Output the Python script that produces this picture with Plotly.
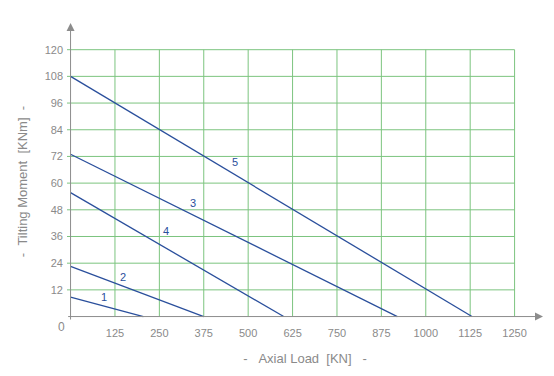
import plotly.graph_objects as go

# ---- data ----
x_ticks = [125, 250, 375, 500, 625, 750, 875, 1000, 1125, 1250]
y_ticks = [12, 24, 36, 48, 60, 72, 84, 96, 108, 120]

curve_names = ["1", "2", "3", "4", "5"]
curve_x = [[0, 205], [0, 375], [0, 920], [0, 600], [0, 1130]]
curve_y = [[8.7, 0], [22.6, 0], [73, 0], [55.7, 0], [108, 0]]
label_x = [94, 147, 345, 268, 463]
label_y = [8.6, 18, 50.9, 38.3, 69.3]

LINE = "#2a4f9c"
GRID = "#7cc47f"
AXIS = "#8c8c8c"
TXT = "#8a8a8a"
FONT = "Liberation Sans, Arial, sans-serif"

fig = go.Figure()
for n, xs, ys in zip(curve_names, curve_x, curve_y):
    fig.add_trace(go.Scatter(x=xs, y=ys, mode="lines", name=n,
                             line=dict(color=LINE, width=1.3), showlegend=False,
                             hoverinfo="skip"))

shapes = []
# vertical grid
for t in x_ticks:
    shapes.append(dict(type="line", xref="x", yref="y", x0=t, x1=t, y0=0, y1=max(y_ticks),
                       line=dict(color=GRID, width=1), layer="below"))
# horizontal grid (slightly extends left of the axis)
for t in y_ticks:
    shapes.append(dict(type="line", xref="x", yref="y", x0=-11, x1=max(x_ticks), y0=t, y1=t,
                       line=dict(color=GRID, width=1), layer="below"))

annotations = []
# axes with arrows
annotations.append(dict(x=1330, y=0, ax=-11, ay=0, xref="x", yref="y", axref="x", ayref="y",
                        text="", showarrow=True, arrowhead=2, arrowsize=1.6, arrowwidth=1,
                        arrowcolor=AXIS))
annotations.append(dict(x=0, y=132, ax=0, ay=-2, xref="x", yref="y", axref="x", ayref="y",
                        text="", showarrow=True, arrowhead=2, arrowsize=1.6, arrowwidth=1,
                        arrowcolor=AXIS))
# origin label
annotations.append(dict(x=0, y=0, xref="x", yref="y", text="0", showarrow=False,
                        xshift=-9, yshift=-10, font=dict(family=FONT, size=12, color=TXT)))
# curve labels
for n, lx, ly in zip(curve_names, label_x, label_y):
    annotations.append(dict(x=lx, y=ly, xref="x", yref="y", text=n, showarrow=False,
                            font=dict(family=FONT, size=11, color=LINE)))
# y axis title
annotations.append(dict(xref="paper", yref="paper", x=-0.0945, y=0.466,
                        xanchor="center", yanchor="middle", textangle=-90, showarrow=False,
                        text="-&nbsp;&nbsp;Tilting Moment&nbsp;&nbsp;[KNm]&nbsp;&nbsp;-",
                        font=dict(family=FONT, size=13, color=TXT)))

fig.update_layout(
    width=554, height=376,
    margin=dict(l=67, r=11, t=23, b=55),
    paper_bgcolor="white", plot_bgcolor="white",
    shapes=shapes, annotations=annotations,
    xaxis=dict(range=[-10, 1330], tickvals=x_ticks, ticktext=[str(t) for t in x_ticks],
               showgrid=False, zeroline=False, showline=False, ticks="",
               tickfont=dict(family=FONT, size=11, color=TXT), ticklabelstandoff=4,
               title=dict(text="-&nbsp;&nbsp;&nbsp;Axial Load&nbsp;&nbsp;[KN]&nbsp;&nbsp;&nbsp;-",
                          font=dict(family=FONT, size=13, color=TXT), standoff=15)),
    yaxis=dict(range=[-2, 132], tickvals=y_ticks, ticktext=[str(t) for t in y_ticks],
               showgrid=False, zeroline=False, showline=False, ticks="",
               tickfont=dict(family=FONT, size=11, color=TXT), ticklabelstandoff=3),
)

fig.write_html("out.html")
